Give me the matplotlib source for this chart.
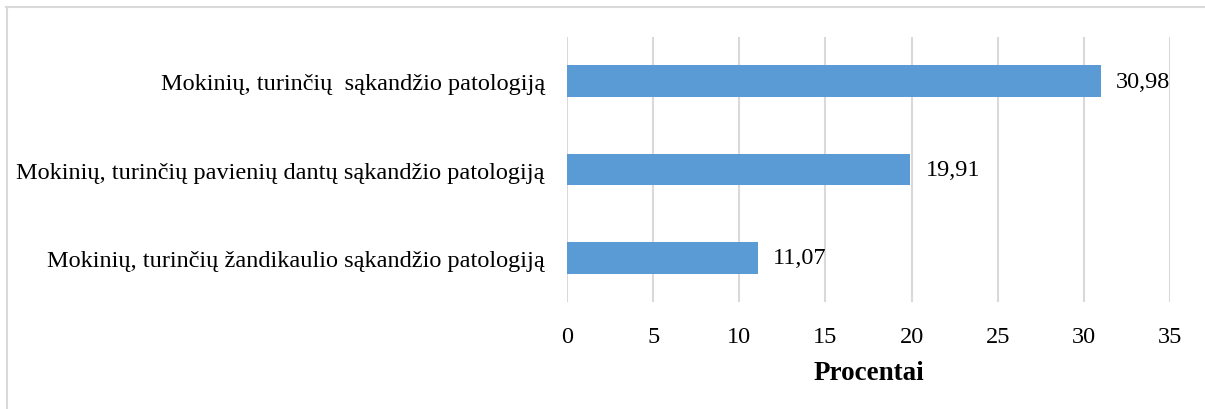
import matplotlib
matplotlib.use("Agg")
import matplotlib.pyplot as plt
from matplotlib.lines import Line2D

categories = [
    "Mokinių, turinčių žandikaulio sąkandžio patologiją",
    "Mokinių, turinčių pavienių dantų sąkandžio patologiją",
    "Mokinių, turinčių  sąkandžio patologiją",
]
values = [11.07, 19.91, 30.98]
value_labels = ["11,07", "19,91", "30,98"]
xticks = [0, 5, 10, 15, 20, 25, 30, 35]

plt.rcParams['font.family'] = ['Liberation Serif', 'DejaVu Serif']

W, H = 1205, 410
fig = plt.figure(figsize=(W / 100, H / 100), dpi=100)
ax = fig.add_axes([567 / W, 1 - 303 / H, (1170 - 567) / W, (303 - 38) / H])

ypos = list(range(len(categories)))
ax.barh(ypos, values, height=0.36, color='#5B9BD5', zorder=3)
for y, v, lab in zip(ypos, values, value_labels):
    ax.text(v + 0.9, y, lab, va='center', ha='left', fontsize=17.5, color='black')

ax.set_xlim(0, 35)
ax.set_ylim(-0.5, 2.5)
ax.set_xticks(xticks)
ax.set_xticklabels([str(t) for t in xticks], fontsize=17.5)
ax.set_yticks(ypos)
ax.set_yticklabels(categories, fontsize=17.5)
ax.tick_params(axis='y', length=0, pad=16)
ax.tick_params(axis='x', length=0, pad=17)
ax.grid(axis='x', color='#D9D9D9', linewidth=1.5, zorder=0)
for s in ax.spines.values():
    s.set_visible(False)
ax.set_xlabel("Procentai", fontsize=19.5, fontweight='bold', labelpad=10)

# outer border (top and left only visible)
fig.add_artist(Line2D([6 / W, 1], [1 - 8 / H, 1 - 8 / H], transform=fig.transFigure,
                      color='#D9D9D9', linewidth=1.5))
fig.add_artist(Line2D([7 / W, 7 / W], [0, 1 - 8 / H], transform=fig.transFigure,
                      color='#D9D9D9', linewidth=1.5))

fig.savefig("out.png", dpi=100)
